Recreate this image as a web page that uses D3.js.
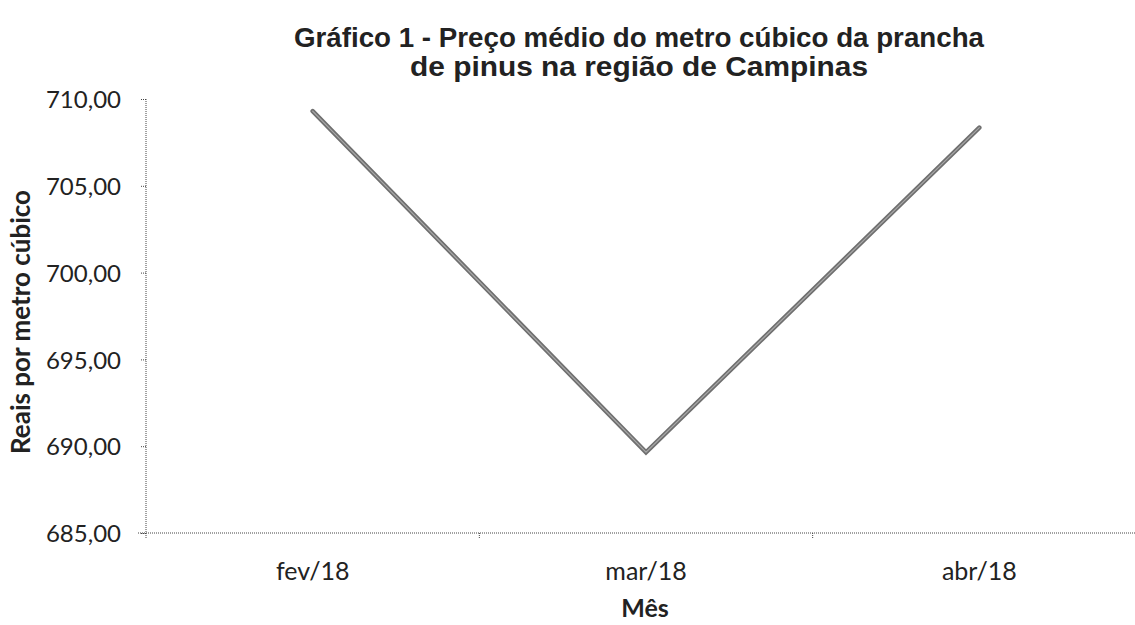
<!DOCTYPE html>
<html><head><meta charset="utf-8">
<script src="https://cdn.jsdelivr.net/npm/d3@7"></script>
<style>body{margin:0;background:#fff;} svg{display:block;}</style>
</head><body>
<svg id="c" width="1135" height="625"></svg>
<script>
const months = ["fev/18", "mar/18", "abr/18"];
const prices = [709.3, 689.65, 708.35];
const yTicks = [685, 690, 695, 700, 705, 710];
const titleLines = ["Gráfico 1 - Preço médio do metro cúbico da prancha", "de pinus na região de Campinas"];
const yTitle = "Reais por metro cúbico";
const xTitle = "Mês";

const svg = d3.select("#c");
const L = 146, R = 1146, T = 99, B = 533;
const y = d3.scaleLinear().domain([685, 710]).range([B, T]);
const xb = d3.scaleBand().domain(months).range([L, R]);
const xp = d3.scalePoint().domain(months).range([L, R]).padding(0.5);
const fmt = v => d3.format(".2f")(v).replace(".", ",");
const axisStroke = "#444";
const sans = "Lato, 'Open Sans', sans-serif";

// Y axis
const ga = svg.append("g").attr("transform", `translate(${L},0)`)
  .call(d3.axisLeft(y).tickValues(yTicks).tickFormat(fmt).tickSize(5).tickPadding(20));
ga.select(".domain").remove();
ga.selectAll(".tick line").attr("stroke", axisStroke).attr("stroke-dasharray", "1,1");
ga.selectAll(".tick text").attr("font-family", sans).attr("font-size", 24).attr("fill", "#222").attr("dy", "0.36em");
svg.append("line").attr("x1", L).attr("x2", L).attr("y1", y(710)).attr("y2", B + 6)
  .attr("stroke", axisStroke).attr("stroke-width", 1).attr("stroke-dasharray", "1,1");

// X axis
const gx = svg.append("g").attr("transform", `translate(0,${B})`)
  .call(d3.axisBottom(xb).tickSize(0).tickPadding(29));
gx.select(".domain").remove();
gx.selectAll(".tick text").attr("font-family", sans).attr("font-size", 25).attr("fill", "#222");
svg.append("line").attr("x1", L - 8).attr("x2", R).attr("y1", B).attr("y2", B)
  .attr("stroke", axisStroke).attr("stroke-width", 1).attr("stroke-dasharray", "1,1");
svg.selectAll(".xb").data(months.slice(1)).join("line").attr("class", "xb")
  .attr("x1", d => xb(d)).attr("x2", d => xb(d)).attr("y1", B).attr("y2", B + 6)
  .attr("stroke", axisStroke).attr("stroke-dasharray", "1,1");

// Line
const line = d3.line().x((d, i) => xp(months[i])).y(d => y(d));
svg.append("path").datum(prices).attr("d", line).attr("fill", "none")
  .attr("stroke", "#6f6f6f").attr("stroke-width", 4.5).attr("stroke-linejoin", "miter").attr("stroke-linecap", "round");
svg.append("path").datum(prices).attr("d", line).attr("fill", "none")
  .attr("stroke", "#a8a8a8").attr("stroke-width", 1.2).attr("stroke-linejoin", "miter").attr("stroke-linecap", "round");

// Titles
const titleLen = [690, 458];
svg.selectAll(".title").data(titleLines).join("text").attr("class", "title")
  .attr("x", 639).attr("y", (d, i) => 47 + i * 29).attr("text-anchor", "middle")
  .attr("font-family", "'Liberation Sans', Arial, sans-serif").attr("font-weight", "bold")
  .attr("font-size", 27).attr("fill", "#222")
  .attr("textLength", (d, i) => titleLen[i]).attr("lengthAdjust", "spacingAndGlyphs")
  .text(d => d);
svg.append("text").attr("transform", "translate(30,322) rotate(-90)").attr("text-anchor", "middle")
  .attr("font-family", sans).attr("font-weight", "bold").attr("font-size", 26)
  .attr("fill", "#222").text(yTitle);
svg.append("text").attr("x", 645).attr("y", 617).attr("text-anchor", "middle")
  .attr("font-family", sans).attr("font-weight", "bold").attr("font-size", 25)
  .attr("fill", "#222").text(xTitle);
</script>
</body></html>
